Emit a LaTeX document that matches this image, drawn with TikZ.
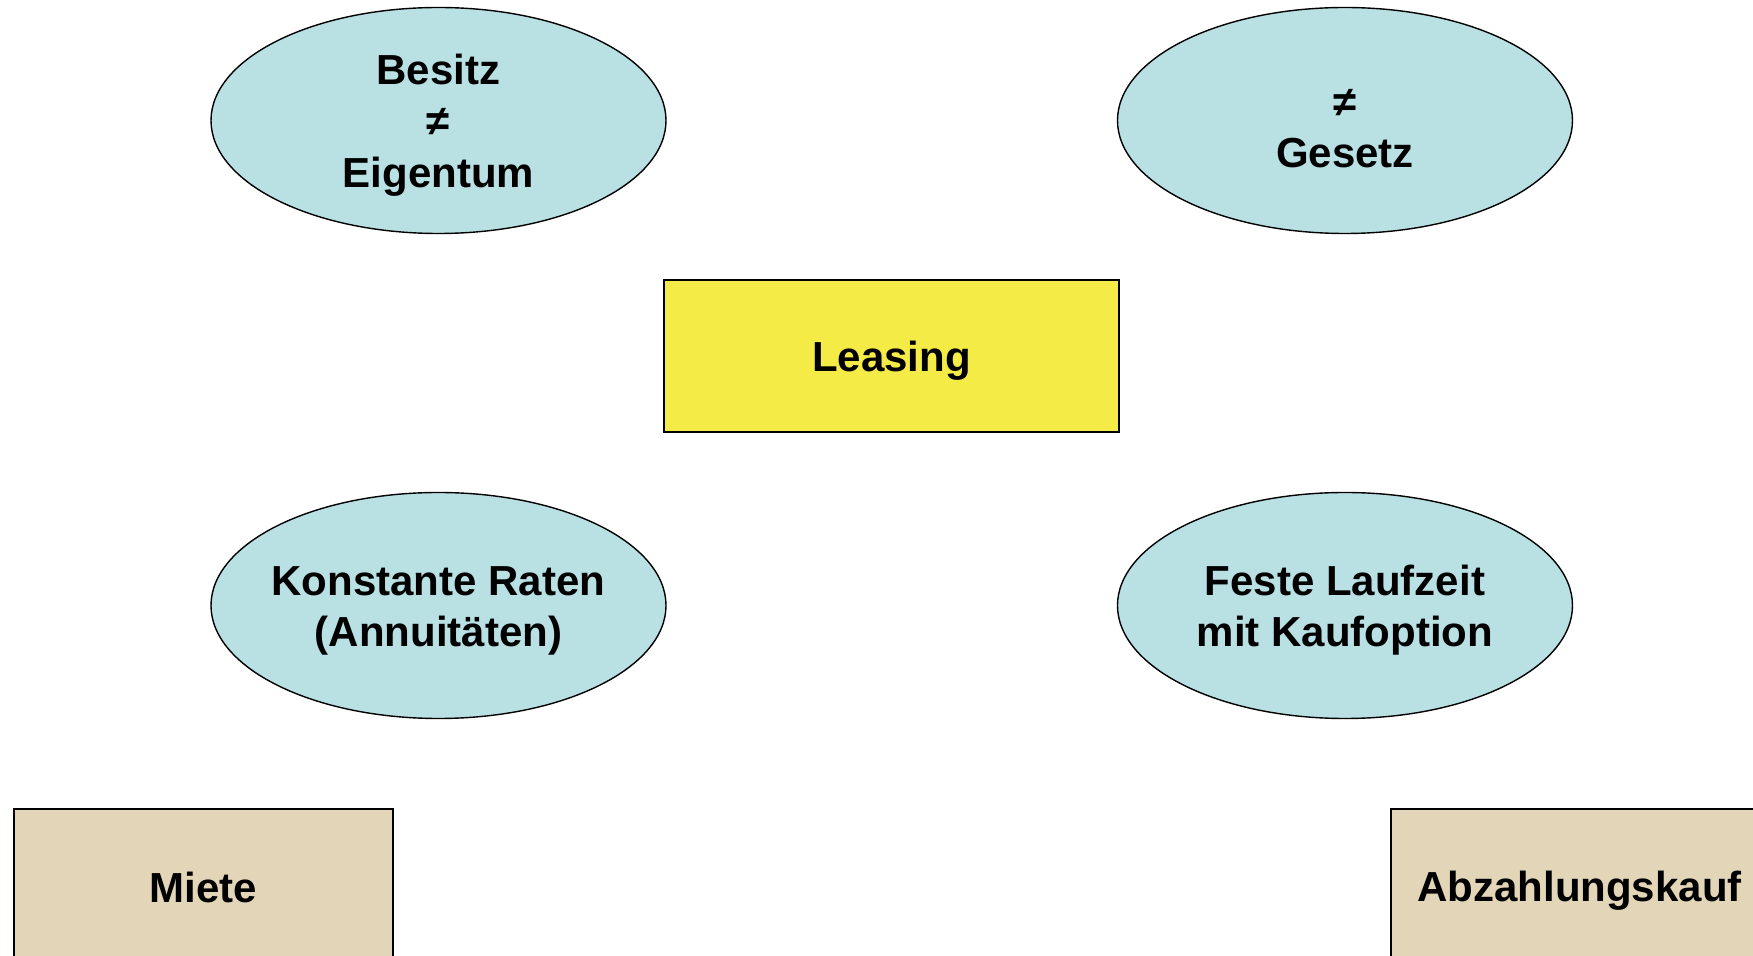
\documentclass[tikz,border=0pt]{standalone}
\usepackage{fontspec}
\setmainfont{Liberation Sans}
\usetikzlibrary{shapes.geometric}
\definecolor{bubble}{HTML}{B9E0E3}
\definecolor{leasefill}{HTML}{F5EB46}
\definecolor{tanfill}{HTML}{E3D5B8}
% line strut: equal room above and below the cap middle
\newcommand\ls{\rule[-0.16em]{0pt}{1.1em}}
\tikzset{
  lbl/.style={font=\fontsize{21}{25.7}\selectfont\bfseries, align=center, text=black, inner sep=0pt},
  bubblenode/.style={ellipse, draw=black, line width=0.7pt, fill=bubble,
    minimum width=227.5pt, minimum height=113pt, inner sep=0pt,
    label={[lbl]center:{#1}}},
  boxnode/.style={lbl, rectangle, draw=black, line width=0.8pt, inner sep=0pt}
}
\begin{document}
\begin{tikzpicture}[x=0.5pt, y=-0.5pt]
  \useasboundingbox (0,0) rectangle (1753,956);
  \clip (0,0) rectangle (1753,956);
  % central concept
  \node[boxnode, fill=leasefill, minimum width=227.5pt, minimum height=76pt] (leasing) at (891.5,356) {\ls Leasing};
  % characteristic bubbles
  \node[bubblenode={\ls Besitz\\\ls ≠\\\ls Eigentum}] (besitz) at (438.5,120.5) {};
  \node[bubblenode={\rule[-0.16em]{0pt}{1.34em}≠\\\ls Gesetz}] (gesetz) at (1345,120.5) {};
  \node[bubblenode={\ls Konstante Raten\\\ls (Annuitäten)}] (raten) at (438.5,605.5) {};
  \node[bubblenode={\ls Feste Laufzeit\\\ls mit Kaufoption}] (laufzeit) at (1345,605.5) {};
  % related contract types
  \node[boxnode, fill=tanfill, minimum width=189.5pt, minimum height=77pt] (miete) at (203.5,886) {\ls Miete};
  \node[boxnode, fill=tanfill, minimum width=188.5pt, minimum height=77pt] (abzahlung) at (1579.5,886) {\ls Abzahlungskauf};
\end{tikzpicture}
\end{document}
